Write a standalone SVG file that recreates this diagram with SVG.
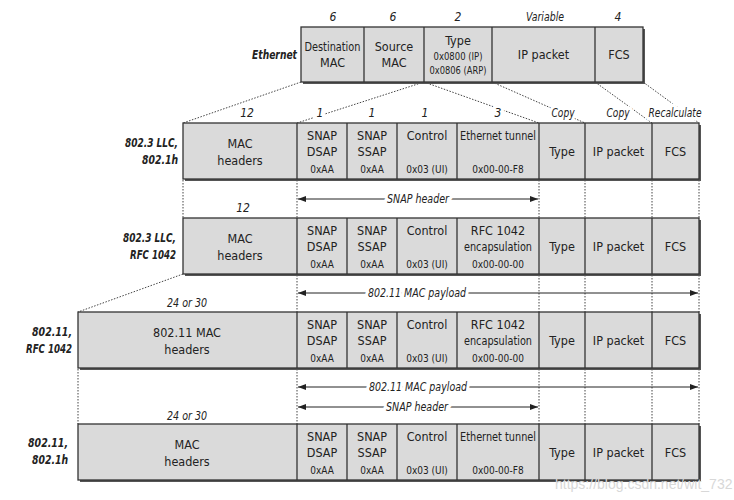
<svg xmlns="http://www.w3.org/2000/svg" width="734" height="500" viewBox="0 0 734 500">
<defs>
<marker id="ah" markerWidth="8" markerHeight="6" refX="8" refY="3" orient="auto-start-reverse" markerUnits="userSpaceOnUse">
<path d="M0,0 L8,3 L0,6 Z" fill="#222"/>
</marker>
<style>
text{font-family:"Liberation Sans Narrow","DejaVu Sans Condensed","Liberation Sans",sans-serif;fill:#222;text-anchor:middle}
.t{font-size:12.5px}
.s{font-size:10px}
.n{font-size:12px;font-style:italic}
.lab{font-size:12.5px;font-style:italic;font-weight:bold;text-anchor:end}
.bg{paint-order:stroke;stroke:#fff;stroke-width:7px;stroke-linejoin:round}
.cell{fill:#dadada;stroke:#333;stroke-width:1.3}
.sh{fill:#555}
.dv{stroke:#333;stroke-width:1.3}
.dot{stroke:#444;stroke-width:1;stroke-dasharray:1.5 1.5;fill:none}
.arr{stroke:#222;stroke-width:1;fill:none}
.wm{font-family:"Liberation Sans","DejaVu Sans",sans-serif;font-size:14px;fill:#d8d8d8;text-anchor:start}
</style>
</defs>
<rect width="734" height="500" fill="#fff"/>

<g id="connectors">
<line class="dot" x1="301" y1="82" x2="183" y2="123"/>
<line class="dot" x1="424" y1="82" x2="297" y2="123"/>
<line class="dot" x1="424" y1="82" x2="539" y2="123"/>
<line class="dot" x1="492" y1="82" x2="585" y2="123"/>
<line class="dot" x1="595" y1="82" x2="652" y2="123"/>
<line class="dot" x1="643" y1="82" x2="699" y2="123"/>
<g class="dot">
<line x1="183" y1="180" x2="183" y2="218"/><line x1="297" y1="180" x2="297" y2="218"/><line x1="539" y1="180" x2="539" y2="218"/><line x1="585" y1="180" x2="585" y2="218"/><line x1="652" y1="180" x2="652" y2="218"/><line x1="699" y1="180" x2="699" y2="218"/>
<line x1="183" y1="274" x2="78" y2="312"/>
<line x1="297" y1="275" x2="297" y2="312"/><line x1="539" y1="275" x2="539" y2="312"/><line x1="585" y1="275" x2="585" y2="312"/><line x1="652" y1="275" x2="652" y2="312"/><line x1="699" y1="275" x2="699" y2="312"/>
<line x1="78" y1="369" x2="78" y2="424"/><line x1="297" y1="369" x2="297" y2="424"/><line x1="539" y1="369" x2="539" y2="424"/><line x1="585" y1="369" x2="585" y2="424"/><line x1="652" y1="369" x2="652" y2="424"/><line x1="699" y1="369" x2="699" y2="424"/>
</g>
<line class="arr" x1="298" y1="199" x2="538" y2="199" marker-start="url(#ah)" marker-end="url(#ah)"/>
<line class="arr" x1="298" y1="293" x2="698" y2="293" marker-start="url(#ah)" marker-end="url(#ah)"/>
<line class="arr" x1="298" y1="387" x2="698" y2="387" marker-start="url(#ah)" marker-end="url(#ah)"/>
<line class="arr" x1="298" y1="407" x2="538" y2="407" marker-start="url(#ah)" marker-end="url(#ah)"/>
<text class="n bg" x="418" y="203" textLength="62" lengthAdjust="spacingAndGlyphs">SNAP header</text>
<text class="n bg" x="417" y="297" textLength="98" lengthAdjust="spacingAndGlyphs">802.11 MAC payload</text>
<text class="n bg" x="418" y="391" textLength="98" lengthAdjust="spacingAndGlyphs">802.11 MAC payload</text>
<text class="n bg" x="417" y="411" textLength="62" lengthAdjust="spacingAndGlyphs">SNAP header</text>
<text class="n bg" x="563" y="117" textLength="23" lengthAdjust="spacingAndGlyphs">Copy</text>
<text class="n bg" x="618" y="117" textLength="23" lengthAdjust="spacingAndGlyphs">Copy</text>
<text class="n bg" x="675" y="117" textLength="53" lengthAdjust="spacingAndGlyphs">Recalculate</text>
<text class="n bg" x="247" y="117">12</text>
<text class="n bg" x="320" y="117">1</text>
<text class="n bg" x="372" y="117">1</text>
<text class="n bg" x="425" y="117">1</text>
<text class="n bg" x="498" y="117">3</text>
<text class="n" x="243" y="212">12</text>
<text class="n" x="187" y="307" textLength="40" lengthAdjust="spacingAndGlyphs">24 or 30</text>
<text class="n" x="187" y="420" textLength="40" lengthAdjust="spacingAndGlyphs">24 or 30</text>
</g>

<g id="ethernet">
<rect class="sh" x="303" y="29" width="342" height="55"/>
<rect class="cell" x="301" y="27" width="342" height="55"/>
<line class="dv" x1="364" y1="27" x2="364" y2="82"/>
<line class="dv" x1="424" y1="27" x2="424" y2="82"/>
<line class="dv" x1="492" y1="27" x2="492" y2="82"/>
<line class="dv" x1="595" y1="27" x2="595" y2="82"/>
<text class="lab" x="297" y="59" textLength="45" lengthAdjust="spacingAndGlyphs">Ethernet</text>
<text class="n" x="333" y="21">6</text>
<text class="n" x="393" y="21">6</text>
<text class="n" x="458" y="21">2</text>
<text class="n" x="545" y="21" textLength="38" lengthAdjust="spacingAndGlyphs">Variable</text>
<text class="n" x="618" y="21">4</text>
<text class="t" x="332.5" y="51" textLength="56" lengthAdjust="spacingAndGlyphs">Destination</text>
<text class="t" x="332.5" y="67">MAC</text>
<text class="t" x="394" y="51">Source</text>
<text class="t" x="394" y="67">MAC</text>
<text class="t" x="458" y="45">Type</text>
<text class="s" x="458" y="60" textLength="49" lengthAdjust="spacingAndGlyphs">0x0800 (IP)</text>
<text class="s" x="458" y="74" textLength="57" lengthAdjust="spacingAndGlyphs">0x0806 (ARP)</text>
<text class="t" x="543.5" y="59">IP packet</text>
<text class="t" x="619" y="59">FCS</text>
</g>

<g id="row-8023-llc-8021h" transform="translate(0,123)">
<rect class="sh" x="185" y="2" width="516" height="56"/>
<rect class="cell" x="183" y="0" width="516" height="56"/>
<g class="dv"><line x1="297" y1="0" x2="297" y2="56"/><line x1="347" y1="0" x2="347" y2="56"/><line x1="397" y1="0" x2="397" y2="56"/><line x1="457" y1="0" x2="457" y2="56"/><line x1="539" y1="0" x2="539" y2="56"/><line x1="585" y1="0" x2="585" y2="56"/><line x1="652" y1="0" x2="652" y2="56"/></g>
<text class="lab" x="178" y="24" textLength="53" lengthAdjust="spacingAndGlyphs">802.3 LLC,</text>
<text class="lab" x="178" y="41" textLength="36" lengthAdjust="spacingAndGlyphs">802.1h</text>
<text class="t" x="240" y="25">MAC</text>
<text class="t" x="240" y="42">headers</text>
<text class="t" x="322" y="17">SNAP</text><text class="t" x="322" y="33">DSAP</text><text class="s" x="322" y="50">0xAA</text>
<text class="t" x="372" y="17">SNAP</text><text class="t" x="372" y="33">SSAP</text><text class="s" x="372" y="50">0xAA</text>
<text class="t" x="427" y="17">Control</text><text class="s" x="427" y="50">0x03 (UI)</text>
<text class="t" x="498" y="17" textLength="76" lengthAdjust="spacingAndGlyphs">Ethernet tunnel</text><text class="s" x="498" y="50">0x00-00-F8</text>
<text class="t" x="562" y="33">Type</text>
<text class="t" x="618.5" y="33">IP packet</text>
<text class="t" x="675.5" y="33">FCS</text>
</g>

<g id="row-8023-llc-rfc1042" transform="translate(0,218)">
<rect class="sh" x="185" y="2" width="516" height="56"/>
<rect class="cell" x="183" y="0" width="516" height="56"/>
<g class="dv"><line x1="297" y1="0" x2="297" y2="56"/><line x1="347" y1="0" x2="347" y2="56"/><line x1="397" y1="0" x2="397" y2="56"/><line x1="457" y1="0" x2="457" y2="56"/><line x1="539" y1="0" x2="539" y2="56"/><line x1="585" y1="0" x2="585" y2="56"/><line x1="652" y1="0" x2="652" y2="56"/></g>
<text class="lab" x="176" y="24" textLength="53" lengthAdjust="spacingAndGlyphs">802.3 LLC,</text>
<text class="lab" x="176" y="41" textLength="46" lengthAdjust="spacingAndGlyphs">RFC 1042</text>
<text class="t" x="240" y="25">MAC</text>
<text class="t" x="240" y="42">headers</text>
<text class="t" x="322" y="17">SNAP</text><text class="t" x="322" y="33">DSAP</text><text class="s" x="322" y="50">0xAA</text>
<text class="t" x="372" y="17">SNAP</text><text class="t" x="372" y="33">SSAP</text><text class="s" x="372" y="50">0xAA</text>
<text class="t" x="427" y="17">Control</text><text class="s" x="427" y="50">0x03 (UI)</text>
<text class="t" x="498" y="17">RFC 1042</text><text class="t" x="498" y="33" textLength="68" lengthAdjust="spacingAndGlyphs">encapsulation</text><text class="s" x="498" y="50">0x00-00-00</text>
<text class="t" x="562" y="33">Type</text>
<text class="t" x="618.5" y="33">IP packet</text>
<text class="t" x="675.5" y="33">FCS</text>
</g>

<g id="row-80211-rfc1042" transform="translate(0,312)">
<rect class="sh" x="80" y="2" width="621" height="56"/>
<rect class="cell" x="78" y="0" width="621" height="56"/>
<g class="dv"><line x1="297" y1="0" x2="297" y2="56"/><line x1="347" y1="0" x2="347" y2="56"/><line x1="397" y1="0" x2="397" y2="56"/><line x1="457" y1="0" x2="457" y2="56"/><line x1="539" y1="0" x2="539" y2="56"/><line x1="585" y1="0" x2="585" y2="56"/><line x1="652" y1="0" x2="652" y2="56"/></g>
<text class="lab" x="72" y="24" textLength="40" lengthAdjust="spacingAndGlyphs">802.11,</text>
<text class="lab" x="72" y="41" textLength="46" lengthAdjust="spacingAndGlyphs">RFC 1042</text>
<text class="t" x="187" y="25">802.11 MAC</text>
<text class="t" x="187" y="42">headers</text>
<text class="t" x="322" y="17">SNAP</text><text class="t" x="322" y="33">DSAP</text><text class="s" x="322" y="50">0xAA</text>
<text class="t" x="372" y="17">SNAP</text><text class="t" x="372" y="33">SSAP</text><text class="s" x="372" y="50">0xAA</text>
<text class="t" x="427" y="17">Control</text><text class="s" x="427" y="50">0x03 (UI)</text>
<text class="t" x="498" y="17">RFC 1042</text><text class="t" x="498" y="33" textLength="68" lengthAdjust="spacingAndGlyphs">encapsulation</text><text class="s" x="498" y="50">0x00-00-00</text>
<text class="t" x="562" y="33">Type</text>
<text class="t" x="618.5" y="33">IP packet</text>
<text class="t" x="675.5" y="33">FCS</text>
</g>

<g id="row-80211-8021h" transform="translate(0,424)">
<rect class="sh" x="80" y="2" width="621" height="56"/>
<rect class="cell" x="78" y="0" width="621" height="56"/>
<g class="dv"><line x1="297" y1="0" x2="297" y2="56"/><line x1="347" y1="0" x2="347" y2="56"/><line x1="397" y1="0" x2="397" y2="56"/><line x1="457" y1="0" x2="457" y2="56"/><line x1="539" y1="0" x2="539" y2="56"/><line x1="585" y1="0" x2="585" y2="56"/><line x1="652" y1="0" x2="652" y2="56"/></g>
<text class="lab" x="68" y="23" textLength="40" lengthAdjust="spacingAndGlyphs">802.11,</text>
<text class="lab" x="68" y="40" textLength="36" lengthAdjust="spacingAndGlyphs">802.1h</text>
<text class="t" x="187" y="25">MAC</text>
<text class="t" x="187" y="42">headers</text>
<text class="t" x="322" y="17">SNAP</text><text class="t" x="322" y="33">DSAP</text><text class="s" x="322" y="50">0xAA</text>
<text class="t" x="372" y="17">SNAP</text><text class="t" x="372" y="33">SSAP</text><text class="s" x="372" y="50">0xAA</text>
<text class="t" x="427" y="17">Control</text><text class="s" x="427" y="50">0x03 (UI)</text>
<text class="t" x="498" y="17" textLength="76" lengthAdjust="spacingAndGlyphs">Ethernet tunnel</text><text class="s" x="498" y="50">0x00-00-F8</text>
<text class="t" x="562" y="33">Type</text>
<text class="t" x="618.5" y="33">IP packet</text>
<text class="t" x="675.5" y="33">FCS</text>
</g>

<text class="wm" x="555" y="489">https://blog.csdn.net/wit_732</text>
</svg>
